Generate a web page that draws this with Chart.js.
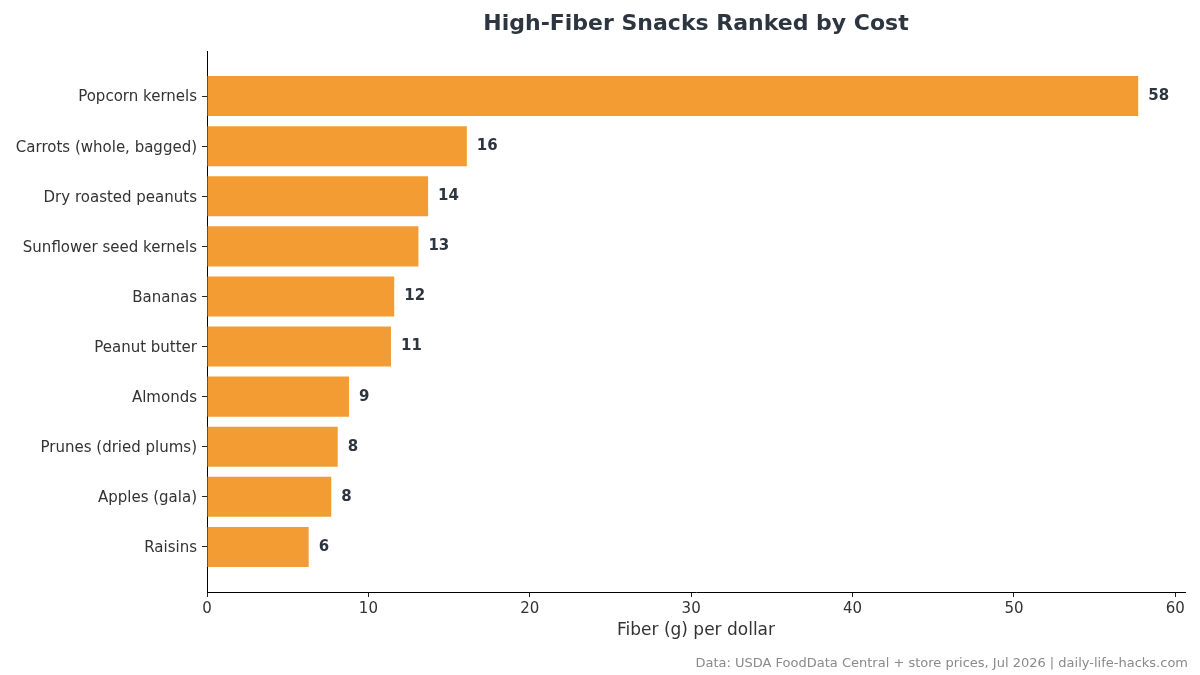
<!DOCTYPE html>
<html>
<head>
<meta charset="utf-8">
<script src="https://cdn.jsdelivr.net/npm/chart.js@4.4.1/dist/chart.umd.min.js"></script>
<style>
  html, body { margin: 0; padding: 0; background: #ffffff; }
  #wrap { width: 1200px; height: 675px; position: relative; }
</style>
</head>
<body>
<div id="wrap"><canvas id="c" width="1200" height="675"></canvas></div>
<script>
const categories = [
  "Popcorn kernels",
  "Carrots (whole, bagged)",
  "Dry roasted peanuts",
  "Sunflower seed kernels",
  "Bananas",
  "Peanut butter",
  "Almonds",
  "Prunes (dried plums)",
  "Apples (gala)",
  "Raisins"
];
const fiberPerDollar = [57.7, 16.1, 13.7, 13.1, 11.6, 11.4, 8.8, 8.1, 7.7, 6.3];
const xTickValues = [0, 10, 20, 30, 40, 50, 60];

const chartTitle = "High-Fiber Snacks Ranked by Cost";
const xAxisTitle = "Fiber (g) per dollar";
const footnote = "Data: USDA FoodData Central + store prices, Jul 2026 | daily-life-hacks.com";

const BAR_COLOR = "#F29C33";
const DARK = "#2d3540";
const TICK_COLOR = "#333333";

const textPlugin = {
  id: "textPlugin",
  afterDatasetsDraw(chart) {
    const ctx = chart.ctx;
    const meta = chart.getDatasetMeta(0);
    ctx.save();
    ctx.font = "bold 15px 'DejaVu Sans'";
    ctx.fillStyle = DARK;
    ctx.textAlign = "left";
    ctx.textBaseline = "middle";
    meta.data.forEach((bar, i) => {
      ctx.fillText(String(Math.round(fiberPerDollar[i])), bar.x + 10, bar.y);
    });
    ctx.restore();
  },
  afterDraw(chart) {
    const ctx = chart.ctx;
    const area = chart.chartArea;
    ctx.save();
    ctx.font = "bold 22px 'DejaVu Sans'";
    ctx.fillStyle = DARK;
    ctx.textAlign = "center";
    ctx.textBaseline = "middle";
    ctx.fillText(chartTitle, (area.left + area.right) / 2, 24);
    ctx.font = "13px 'DejaVu Sans'";
    ctx.fillStyle = "#8a8a8a";
    ctx.textAlign = "right";
    ctx.fillText(footnote, 1188, 664);
    ctx.restore();
  }
};

new Chart(document.getElementById("c"), {
  type: "bar",
  data: {
    datasets: [{
      data: fiberPerDollar.map((v, i) => ({ x: v, y: i })),
      backgroundColor: BAR_COLOR,
      borderWidth: 0,
      categoryPercentage: 1.0,
      barPercentage: 0.8
    }]
  },
  options: {
    indexAxis: "y",
    responsive: false,
    animation: false,
    devicePixelRatio: 1,
    layout: { padding: { top: 51, right: 15, bottom: 34, left: 0 } },
    plugins: {
      legend: { display: false },
      tooltip: { enabled: false },
      title: { display: false }
    },
    scales: {
      y: {
        type: "linear",
        min: -0.9,
        max: 9.9,
        reverse: true,
        offset: false,
        afterFit(scale) { scale.width = 207; },
        afterBuildTicks(scale) { scale.ticks = categories.map((_, i) => ({ value: i })); },
        ticks: {
          callback: (v) => categories[v] !== undefined ? categories[v] : "",
          color: TICK_COLOR,
          font: { family: "'DejaVu Sans'", size: 15 },
          padding: 5,
          labelOffset: 1.5,
          autoSkip: false
        },
        grid: { display: true, offset: false, drawOnChartArea: false, drawTicks: true, tickLength: 5, color: "#222222" },
        border: { display: true, color: "#000000", width: 1 }
      },
      x: {
        type: "linear",
        min: 0,
        max: 60.6,
        offset: false,
        afterFit(scale) { scale.height = 49; },
        afterBuildTicks(scale) { scale.ticks = xTickValues.map(v => ({ value: v })); },
        ticks: {
          color: TICK_COLOR,
          font: { family: "'DejaVu Sans'", size: 15 },
          padding: 3,
          maxRotation: 0
        },
        grid: { display: true, offset: false, drawOnChartArea: false, drawTicks: true, tickLength: 5, color: "#222222" },
        border: { display: true, color: "#000000", width: 1 },
        title: {
          display: true,
          text: xAxisTitle,
          color: TICK_COLOR,
          font: { family: "'DejaVu Sans'", size: 17 },
          padding: { top: 4, bottom: 0 }
        }
      }
    }
  },
  plugins: [textPlugin]
});
</script>
</body>
</html>
